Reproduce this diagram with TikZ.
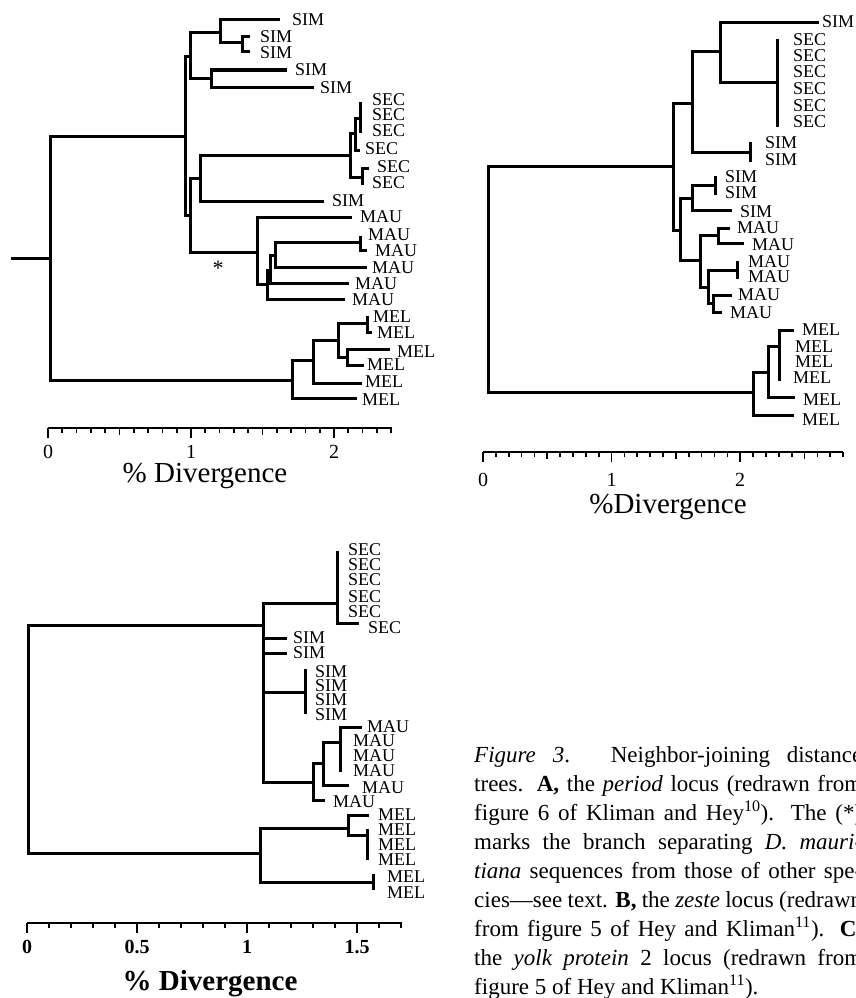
\documentclass[tikz,border=0pt]{standalone}
\usepackage{fontspec}
\setmainfont{Liberation Serif}
\usetikzlibrary{positioning}
\tikzset{
 branch/.style={line width=3pt,line cap=rect,line join=miter},
 lab/.style={font=\fontsize{18}{18}\selectfont,inner sep=0pt,anchor=west,text height=11.9pt,text depth=0pt},
 scaleline/.style={line width=2.2pt},
 scaletick/.style={line width=1.7pt},
 num/.style={font=\fontsize{20}{20}\selectfont,inner sep=0pt,text height=13pt,text depth=0pt},
 numbold/.style={num,font=\fontsize{20}{20}\selectfont\bfseries},
 axtitle/.style={font=\fontsize{29}{29}\selectfont,inner sep=0pt,anchor=base},
 captext/.style={font=\fontsize{23}{29}\selectfont,inner sep=0pt,anchor=north west}
}
\begin{document}
\begin{tikzpicture}[x=1pt,y=-1pt]
\fill[white] (0,0) rectangle (856,998);
\useasboundingbox (0,0) rectangle (856,998);

\coordinate (astub) at (12,258);
\coordinate (aroot) at (50,258);
\coordinate (a1) at (185,136);
\coordinate (a2) at (190,57);
\coordinate (a3) at (190,215);
\coordinate (a4) at (220,33);
\coordinate (a5) at (211,78);
\coordinate (a6) at (242,43);
\coordinate (a7) at (200,178);
\coordinate (a8) at (257,252);
\coordinate (a9) at (350,155);
\coordinate (a10) at (355,133);
\coordinate (a11) at (362,177);
\coordinate (a12) at (360,118);
\coordinate (a13) at (267,284);
\coordinate (a14) at (270,270);
\coordinate (a15) at (275,255);
\coordinate (a16) at (360,242);
\coordinate (am1) at (292,380);
\coordinate (am2) at (313,360);
\coordinate (am3) at (338,340);
\coordinate (am4) at (367,323);
\coordinate (am5) at (347,357);
\coordinate (asim1) at (278,20);
\coordinate (asim2) at (248,37);
\coordinate (asim3) at (248,52);
\coordinate (asim4) at (285,70);
\coordinate (asim5) at (312,87);
\coordinate (asim6) at (322,201);
\coordinate (asec1) at (360,103);
\coordinate (asec3) at (360,131);
\coordinate (asec4) at (358,150);
\coordinate (asec5) at (367,168);
\coordinate (asec6) at (362,183);
\coordinate (amau1) at (350,217);
\coordinate (amau2) at (360,237);
\coordinate (amau3) at (365,250);
\coordinate (amau4) at (365,267);
\coordinate (amau5) at (347,283);
\coordinate (amau6) at (343,299);
\coordinate (amel1) at (367,317);
\coordinate (amel2) at (370,332);
\coordinate (amel3) at (388,349);
\coordinate (amel4) at (362,365);
\coordinate (amel5) at (360,383);
\coordinate (amel6) at (355,398);

\draw[branch] (astub) -- (aroot);
\draw[branch] (aroot) |- (a1) (aroot) |- (am1);
\draw[branch] (a1) |- (a2) (a1) |- (a3);
\draw[branch] (a2) |- (a4) (a2) |- (a5);
\draw[branch] (a4) |- (asim1) (a4) |- (a6);
\draw[branch] (a6) |- (asim2) (a6) |- (asim3);
\draw[branch] (a5) |- (asim4) (a5) |- (asim5);
\draw[branch] (a3) |- (a7) (a3) |- (a8);
\draw[branch] (a7) |- (a9) (a7) |- (asim6);
\draw[branch] (a9) |- (a10) (a9) |- (a11);
\draw[branch] (a10) |- (a12) (a10) |- (asec4);
\draw[branch] (a12) |- (asec1) (a12) |- (asec3);
\draw[branch] (a11) |- (asec5) (a11) |- (asec6);
\draw[branch] (a8) |- (amau1) (a8) |- (a13);
\draw[branch] (a13) |- (a14) (a13) |- (amau6);
\draw[branch] (a14) |- (a15) (a14) |- (amau5);
\draw[branch] (a15) |- (a16) (a15) |- (amau4);
\draw[branch] (a16) |- (amau2) (a16) |- (amau3);
\draw[branch] (am1) |- (am2) (am1) |- (amel6);
\draw[branch] (am2) |- (am3) (am2) |- (amel5);
\draw[branch] (am3) |- (am4) (am3) |- (am5);
\draw[branch] (am4) |- (amel1) (am4) |- (amel2);
\draw[branch] (am5) |- (amel3) (am5) |- (amel4);

\node[lab] (lasim1) at (292,20) {SIM};
\node[lab] (lasim2) at (260,37) {SIM};
\node[lab] (lasim3) at (260,53) {SIM};
\node[lab] (lasim4) at (295,70) {SIM};
\node[lab] (lasim5) at (320,88) {SIM};
\node[lab] (lasec1) at (372,100) {SEC};
\node[lab] (lasec2) at (372,115) {SEC};
\node[lab] (lasec3) at (372,131) {SEC};
\node[lab] (lasec4) at (365,149) {SEC};
\node[lab] (lasec5) at (377,167) {SEC};
\node[lab] (lasec6) at (372,183) {SEC};
\node[lab] (lasim6) at (332,201) {SIM};
\node[lab] (lamau1) at (360,217) {MAU};
\node[lab] (lamau2) at (368,235) {MAU};
\node[lab] (lamau3) at (375,251) {MAU};
\node[lab] (lamau4) at (372,268) {MAU};
\node[lab] (lamau5) at (355,284) {MAU};
\node[lab] (lamau6) at (352,300) {MAU};
\node[lab] (lamel1) at (373,317) {MEL};
\node[lab] (lamel2) at (377,333) {MEL};
\node[lab] (lamel3) at (397,352) {MEL};
\node[lab] (lamel4) at (367,365) {MEL};
\node[lab] (lamel5) at (365,382) {MEL};
\node[lab] (lamel6) at (362,400) {MEL};
\node[font=\fontsize{22}{22}\selectfont,inner sep=0pt] (star) at (218,268) {*};

\coordinate (aax0) at (48,428);
\coordinate (aax1) at (191,428);
\coordinate (aax2) at (334,428);
\coordinate (aaxend) at (392,428);
\draw[scaleline] (aax0) -- (aaxend);
\foreach \k in {0,...,24} \draw[scaletick] (48+14.3*\k,428) -- ++(0,5);
\foreach \k in {5,15} \draw[scaletick] (48+14.3*\k,428) -- ++(0,7);
\foreach \k in {0,10,20} \draw[scaletick] (48+14.3*\k,428) -- ++(0,10);
\node[num,below=17pt of aax0] {0};
\node[num,below=17pt of aax1] {1};
\node[num,below=17pt of aax2] {2};
\node[axtitle] (atitle) at (205,482) {\% Divergence};

\coordinate (broot) at (488,279);
\coordinate (b1) at (673,166);
\coordinate (b2) at (692,103);
\coordinate (b3) at (680,230);
\coordinate (b4) at (720,52);
\coordinate (b5) at (750,152);
\coordinate (b6) at (777,82);
\coordinate (b7) at (692,198);
\coordinate (b8) at (700,260);
\coordinate (b9) at (715,185);
\coordinate (b10) at (718,235);
\coordinate (b11) at (708,287);
\coordinate (b12) at (737,270);
\coordinate (b13) at (713,303);
\coordinate (bm1) at (753,392);
\coordinate (bm2) at (768,372);
\coordinate (bm3) at (779,346);
\coordinate (bsim1) at (817,23);
\coordinate (bsec1) at (777,41);
\coordinate (bsec6) at (777,125);
\coordinate (bsim2) at (750,143);
\coordinate (bsim3) at (750,160);
\coordinate (bsim4) at (715,177);
\coordinate (bsim5) at (715,193);
\coordinate (bsim6) at (730,210);
\coordinate (bmau1) at (728,228);
\coordinate (bmau2) at (742,243);
\coordinate (bmau3) at (737,262);
\coordinate (bmau4) at (737,277);
\coordinate (bmau5) at (730,295);
\coordinate (bmau6) at (720,312);
\coordinate (bmel1) at (792,330);
\coordinate (bmel4) at (779,379);
\coordinate (bmel5) at (793,397);
\coordinate (bmel6) at (792,415);

\draw[branch] (broot) |- (b1) (broot) |- (bm1);
\draw[branch] (b1) |- (b2) (b1) |- (b3);
\draw[branch] (b2) |- (b4) (b2) |- (b5);
\draw[branch] (b4) |- (bsim1) (b4) |- (b6);
\draw[branch] (b6) |- (bsec1) (b6) |- (bsec6);
\draw[branch] (b5) |- (bsim2) (b5) |- (bsim3);
\draw[branch] (b3) |- (b7) (b3) |- (b8);
\draw[branch] (b7) |- (b9) (b7) |- (bsim6);
\draw[branch] (b9) |- (bsim4) (b9) |- (bsim5);
\draw[branch] (b8) |- (b10) (b8) |- (b11);
\draw[branch] (b10) |- (bmau1) (b10) |- (bmau2);
\draw[branch] (b11) |- (b12) (b11) |- (b13);
\draw[branch] (b12) |- (bmau3) (b12) |- (bmau4);
\draw[branch] (b13) |- (bmau5) (b13) |- (bmau6);
\draw[branch] (bm1) |- (bm2) (bm1) |- (bmel6);
\draw[branch] (bm2) |- (bm3) (bm2) |- (bmel5);
\draw[branch] (bm3) |- (bmel1) (bm3) |- (bmel4);

\node[lab] (lbsim1) at (822,22) {SIM};
\node[lab] (lbsec1) at (793,40) {SEC};
\node[lab] (lbsec2) at (793,56) {SEC};
\node[lab] (lbsec3) at (793,72) {SEC};
\node[lab] (lbsec4) at (793,89) {SEC};
\node[lab] (lbsec5) at (793,106) {SEC};
\node[lab] (lbsec6) at (793,122) {SEC};
\node[lab] (lbsim2) at (765,143) {SIM};
\node[lab] (lbsim3) at (765,160) {SIM};
\node[lab] (lbsim4) at (725,177) {SIM};
\node[lab] (lbsim5) at (725,193) {SIM};
\node[lab] (lbsim6) at (740,212) {SIM};
\node[lab] (lbmau1) at (737,228) {MAU};
\node[lab] (lbmau2) at (752,245) {MAU};
\node[lab] (lbmau3) at (748,262) {MAU};
\node[lab] (lbmau4) at (748,277) {MAU};
\node[lab] (lbmau5) at (738,295) {MAU};
\node[lab] (lbmau6) at (730,313) {MAU};
\node[lab] (lbmel1) at (802,330) {MEL};
\node[lab] (lbmel2) at (795,347) {MEL};
\node[lab] (lbmel3) at (795,362) {MEL};
\node[lab] (lbmel4) at (793,378) {MEL};
\node[lab] (lbmel5) at (803,400) {MEL};
\node[lab] (lbmel6) at (802,420) {MEL};

\coordinate (bax0) at (483,452);
\coordinate (bax1) at (611.6,452);
\coordinate (bax2) at (740.2,452);
\coordinate (baxend) at (843,452);
\draw[scaleline] (bax0) -- (baxend);
\foreach \k in {0,...,28} \draw[scaletick] (483+12.86*\k,452) -- ++(0,5);
\foreach \k in {5,15,25} \draw[scaletick] (483+12.86*\k,452) -- ++(0,7);
\foreach \k in {0,10,20} \draw[scaletick] (483+12.86*\k,452) -- ++(0,10);
\node[num,below=21pt of bax0] {0};
\node[num,below=21pt of bax1] {1};
\node[num,below=21pt of bax2] {2};
\node[axtitle] (btitle) at (668,513) {\%Divergence};

\coordinate (croot) at (28,739);
\coordinate (c1) at (263,625);
\coordinate (c2) at (337,603);
\coordinate (c3) at (305,692);
\coordinate (c4) at (313,782);
\coordinate (c5) at (323,763);
\coordinate (c6) at (340,742);
\coordinate (cm1) at (260,853);
\coordinate (cm2) at (348,828);
\coordinate (cm3) at (373,882);
\coordinate (cm4) at (367,835);
\coordinate (csec1) at (337,552);
\coordinate (csec6) at (357,623);
\coordinate (csim1) at (285,638);
\coordinate (csim2) at (285,653);
\coordinate (csim3) at (305,670);
\coordinate (csim6) at (305,712);
\coordinate (cmau1) at (360,727);
\coordinate (cmau4) at (340,770);
\coordinate (cmau5) at (347,785);
\coordinate (cmau6) at (323,800);
\coordinate (cmel1) at (367,815);
\coordinate (cmel2) at (367,830);
\coordinate (cmel4) at (367,858);
\coordinate (cmel5) at (373,875);
\coordinate (cmel6) at (373,888);

\draw[branch] (croot) |- (c1) (croot) |- (cm1);
\draw[branch] (c1) |- (c2) (c1) |- (csim1) (c1) |- (csim2) (c1) |- (c3) (c1) |- (c4);
\draw[branch] (c2) |- (csec1) (c2) |- (csec6);
\draw[branch] (c3) |- (csim3) (c3) |- (csim6);
\draw[branch] (c4) |- (c5) (c4) |- (cmau6);
\draw[branch] (c5) |- (c6) (c5) |- (cmau5);
\draw[branch] (c6) |- (cmau1) (c6) |- (cmau4);
\draw[branch] (cm1) |- (cm2) (cm1) |- (cm3);
\draw[branch] (cm2) |- (cmel1) (cm2) |- (cm4);
\draw[branch] (cm4) |- (cmel2) (cm4) |- (cmel4);
\draw[branch] (cm3) |- (cmel5) (cm3) |- (cmel6);

\node[lab] (lcsec1) at (348,550) {SEC};
\node[lab] (lcsec2) at (348,565) {SEC};
\node[lab] (lcsec3) at (348,580) {SEC};
\node[lab] (lcsec4) at (348,597) {SEC};
\node[lab] (lcsec5) at (348,612) {SEC};
\node[lab] (lcsec6) at (368,628) {SEC};
\node[lab] (lcsim1) at (293,638) {SIM};
\node[lab] (lcsim2) at (293,653) {SIM};
\node[lab] (lcsim3) at (315,672) {SIM};
\node[lab] (lcsim4) at (315,686) {SIM};
\node[lab] (lcsim5) at (315,700) {SIM};
\node[lab] (lcsim6) at (315,715) {SIM};
\node[lab] (lcmau1) at (367,727) {MAU};
\node[lab] (lcmau2) at (353,741) {MAU};
\node[lab] (lcmau3) at (353,756) {MAU};
\node[lab] (lcmau4) at (353,771) {MAU};
\node[lab] (lcmau5) at (362,788) {MAU};
\node[lab] (lcmau6) at (333,802) {MAU};
\node[lab] (lcmel1) at (378,815) {MEL};
\node[lab] (lcmel2) at (378,830) {MEL};
\node[lab] (lcmel3) at (378,845) {MEL};
\node[lab] (lcmel4) at (378,860) {MEL};
\node[lab] (lcmel5) at (387,877) {MEL};
\node[lab] (lcmel6) at (387,893) {MEL};

\coordinate (cax0) at (27,923);
\coordinate (cax1) at (137,923);
\coordinate (cax2) at (247,923);
\coordinate (cax3) at (357,923);
\coordinate (caxend) at (402,923);
\draw[scaleline] (cax0) -- (caxend);
\foreach \k in {0,...,17} \draw[scaletick] (27+22*\k,923) -- ++(0,5);
\foreach \k in {0,5,10,15} \draw[scaletick] (27+22*\k,923) -- ++(0,10);
\node[numbold,below=17pt of cax0] {0};
\node[numbold,below=17pt of cax1] {0.5};
\node[numbold,below=17pt of cax2] {1};
\node[numbold,below=17pt of cax3] {1.5};
\node[axtitle,font=\fontsize{29}{29}\selectfont\bfseries] (ctitle) at (210,990) {\% Divergence};

\node[captext] (cap) at (474,746) {\parbox{388pt}{%
\hbox to\hsize{\textit{Figure 3}. Neighbor-joining distance}%
\hbox to\hsize{trees. \textbf{A,} the \textit{period} locus (redrawn from}%
\hbox to\hsize{figure 6 of Kliman and Hey\textsuperscript{10}). The (*)}%
\hbox to\hsize{marks the branch separating \textit{D. mauri-}}%
\hbox to\hsize{\textit{tiana} sequences from those of other spe-}%
\hbox to\hsize{cies—see text. \textbf{B,} the \textit{zeste} locus (redrawn}%
\hbox to\hsize{from figure 5 of Hey and Kliman\textsuperscript{11}). \textbf{C,}}%
\hbox to\hsize{the \textit{yolk protein} 2 locus (redrawn from}%
\hbox to\hsize{figure 5 of Hey and Kliman\textsuperscript{11}).\hfil}}};
\end{tikzpicture}
\end{document}
